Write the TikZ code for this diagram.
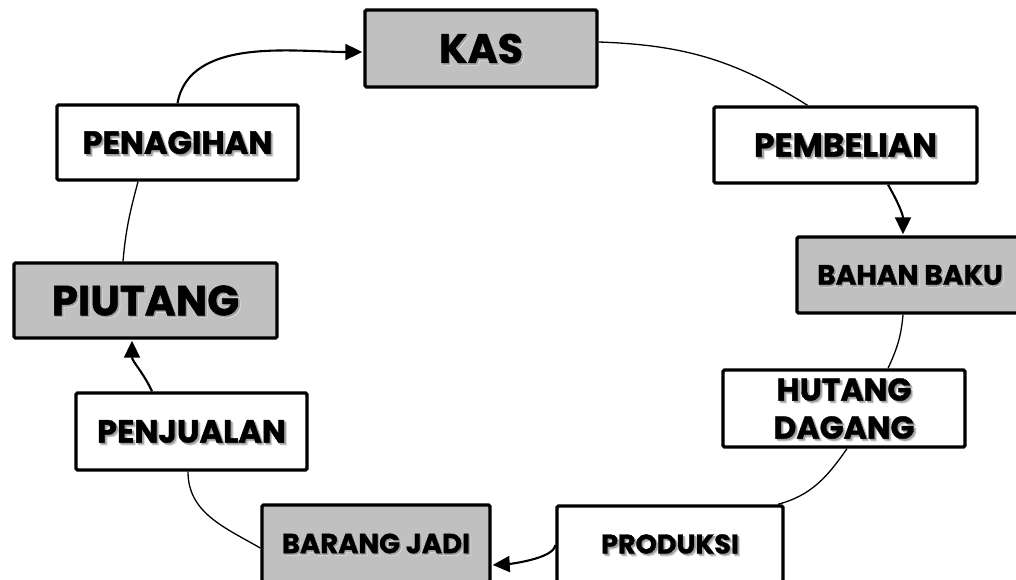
\documentclass[tikz,border=0pt]{standalone}
\usepackage{fontspec}
\setmainfont{Poppins}[BoldFeatures={FakeBold=1.2}]
\usetikzlibrary{arrows.meta,calc}
\definecolor{boxgray}{HTML}{C0C0C0}
% text with a soft grey drop shadow
\newcommand\shadowed[1]{%
  \leavevmode
  \makebox[0pt][l]{\raisebox{-2.6pt}[0pt][0pt]{\kern2.6pt\color{black!16}#1}}%
  \makebox[0pt][l]{\raisebox{-1.6pt}[0pt][0pt]{\kern1.6pt\color{black!38}#1}}%
  #1}
\tikzset{
  box/.style={draw=black, line width=3.4pt, rounded corners=1.5pt, fill=white,
    inner sep=0pt, align=center, font=\bfseries},
  graybox/.style={box, fill=boxgray},
  link/.style={line width=1.3pt},
  flow/.style={line width=2.1pt, -{Triangle[length=17pt,width=16pt]}},
}
\begin{document}
\begin{tikzpicture}[x=1pt,y=-1pt]
\useasboundingbox (0,0) rectangle (1016,580);
\fill[white] (0,0) rectangle (1016,580);
\clip (0,0) rectangle (1016,580);

% boxes
\node[graybox, minimum width=232pt, minimum height=77pt, font=\bfseries\fontsize{41}{44}\selectfont]
  (kas) at (481,48.5) {\shadowed{KAS}};
\node[box, minimum width=241pt, minimum height=75pt, font=\bfseries\fontsize{32}{34}\selectfont]
  (penagihan) at (177.5,142.5) {\shadowed{PENAGIHAN}};
\node[box, minimum width=263pt, minimum height=76pt, font=\bfseries\fontsize{33}{34}\selectfont]
  (pembelian) at (845.5,145) {\shadowed{PEMBELIAN}};
\node[graybox, minimum width=226pt, minimum height=76pt, font=\bfseries\fontsize{28}{30}\selectfont]
  (bahan) at (910,275) {\shadowed{BAHAN BAKU}};
\node[graybox, minimum width=263pt, minimum height=75pt, font=\bfseries\fontsize{42}{44}\selectfont]
  (piutang) at (145.5,300.5) {\shadowed{PIUTANG}};
\node[box, minimum width=242pt, minimum height=77pt, font=\bfseries\fontsize{31.5}{38}\selectfont]
  (hutang) at (844,408.5) {\shadowed{HUTANG}\\\shadowed{DAGANG}};
\node[box, minimum width=231pt, minimum height=77pt, font=\bfseries\fontsize{32}{34}\selectfont]
  (penjualan) at (191.5,431.5) {\shadowed{PENJUALAN}};
\node[graybox, minimum width=228pt, minimum height=77pt, font=\bfseries\fontsize{27.5}{30}\selectfont]
  (barang) at (376,543.5) {\shadowed{BARANG JADI}};
\node[box, minimum width=226pt, minimum height=76pt, font=\bfseries\fontsize{27}{30}\selectfont]
  (produksi) at (670,544) {\shadowed{PRODUKSI}};

% cycle connectors
\draw[flow, shorten >=1pt] (penagihan.north) to[out=80, in=180, looseness=0.9] ([yshift=-3.5pt]kas.west);
\draw[link] ([yshift=6.5pt]kas.east) to[out=-2, in=148] ([xshift=-38pt]pembelian.north);
\draw[flow, shorten >=1pt] ([xshift=42.5pt]pembelian.south) to[out=-60, in=90] ([xshift=-7pt]bahan.north);
\draw[link] ([xshift=-7pt]bahan.south) to[out=-95, in=65] ([xshift=44pt]hutang.north);
\draw[link] ([xshift=3pt]hutang.south) to[out=-125, in=15] ([xshift=108pt]produksi.north);
\draw[flow, shorten >=1pt] ([yshift=-1pt]produksi.west) to[out=-95, in=3, looseness=0.55] ([yshift=-21.5pt]barang.east);
\draw[link] ([yshift=-4.5pt]barang.west) to[out=150, in=-90] ([xshift=-3.5pt]penjualan.south);
\draw[flow, shorten >=1pt] ([xshift=-39.5pt]penjualan.north) to[out=115, in=-90] ([xshift=-13.5pt]piutang.south);
\draw[link] ([xshift=-22.5pt]piutang.north) to[out=85, in=-105] ([xshift=-39.5pt]penagihan.south);
\end{tikzpicture}
\end{document}
